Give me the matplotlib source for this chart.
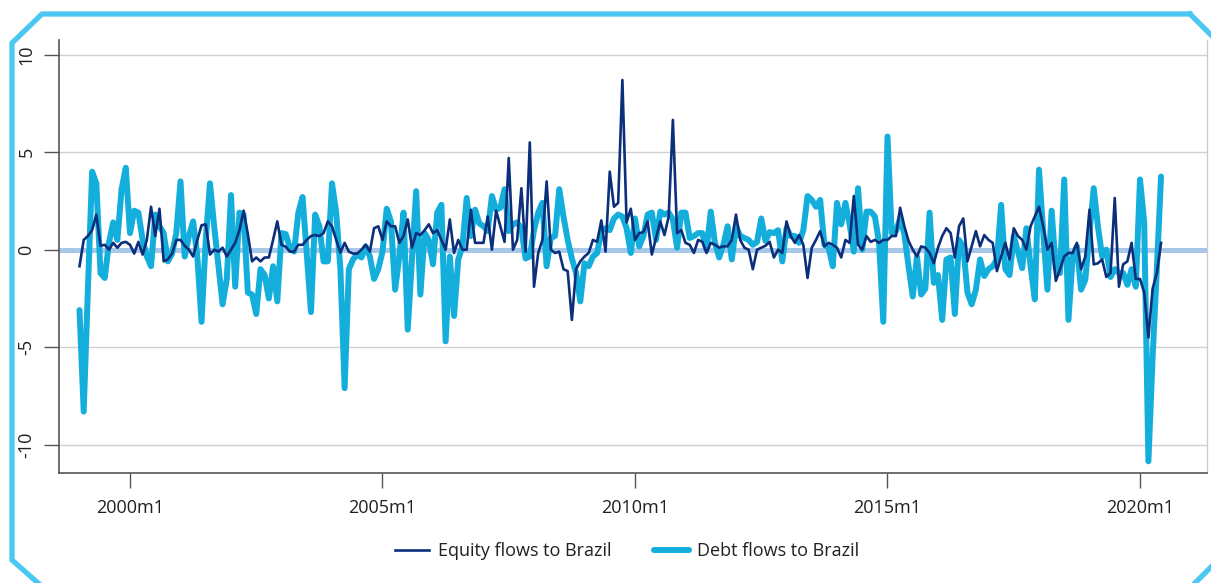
import numpy as np
import matplotlib
matplotlib.use("Agg")
import matplotlib.pyplot as plt
from matplotlib.lines import Line2D

# ---------------- data (percent, monthly 1999m1 - 2020m6) ----------------
start_year = 1999
equity_flows = [
    -0.85, 0.5, 0.7, 1.0, 1.8, 0.2, 0.25, 0.0, 0.35, 0.1, 0.35, 0.4,        # 1999
    0.25, -0.2, 0.4, -0.25, 0.5, 2.2, 0.7, 2.1, -0.6, -0.5, -0.2, 0.5,      # 2000
    0.5, 0.2, 0.0, -0.35, 0.5, 1.25, 1.3, -0.25, 0.0, -0.1, 0.1, -0.35,     # 2001
    0.0, 0.35, 1.0, 2.0, 0.8, -0.6, -0.4, -0.6, -0.4, -0.4, 0.5, 1.45,      # 2002
    0.25, 0.15, -0.1, -0.1, 0.25, 0.25, 0.5, 0.7, 0.75, 0.7, 0.85, 1.45,    # 2003
    1.2, 0.5, -0.15, 0.35, -0.1, -0.2, -0.2, 0.0, 0.25, -0.1, 1.1, 1.2,     # 2004
    0.5, 1.45, 1.2, 1.2, 0.35, 0.7, 1.55, 0.1, 0.85, 0.75, 1.0, 1.3,        # 2005
    0.85, 1.0, 0.5, 0.0, 1.55, -0.17, 0.5, 0.0, 0.0, 2.05, 0.35, 0.35,      # 2006
    0.35, 1.7, 0.0, 2.0, 1.2, 0.4, 4.7, 0.0, 0.5, 3.15, -0.1, 5.5,          # 2007
    -1.9, -0.17, 0.5, 3.5, 0.0, -0.17, -0.1, -1.0, -1.1, -3.6, -1.0, -0.6,  # 2008
    -0.35, -0.17, 0.5, 0.4, 1.5, -0.1, 4.0, 2.2, 2.4, 8.7, 1.4, 2.1,        # 2009
    0.5, 0.85, 0.9, 1.45, -0.25, 0.6, 1.45, 0.75, 1.7, 6.65, 0.85, 1.0,     # 2010
    0.35, 0.25, -0.17, 0.5, 0.4, -0.17, 0.35, 0.25, 0.1, 0.17, 0.17, 0.5,   # 2011
    1.8, 0.5, 0.1, 0.0, -1.0, 0.0, 0.1, 0.2, 0.4, -0.4, 0.0, -0.17,         # 2012
    1.45, 0.7, 0.35, 0.75, 0.25, -1.45, 0.1, 0.5, 0.95, 0.17, 0.35, 0.25,   # 2013
    0.1, -0.4, 0.5, 0.35, 2.75, 0.25, 0.0, 0.7, 0.4, 0.5, 0.35, 0.5,        # 2014
    0.5, 0.7, 0.7, 2.15, 1.2, 0.45, 0.0, -0.35, 0.17, 0.1, -0.17, -0.7,     # 2015
    0.1, 0.7, 1.1, 0.85, -0.4, 1.2, 1.6, -0.6, 0.17, 0.95, 0.17, 0.75,      # 2016
    0.5, 0.35, -1.1, -0.35, 0.35, -0.5, 1.1, 0.7, 0.5, 0.0, 1.2, 1.7,       # 2017
    2.2, 1.2, 0.0, 0.35, -1.6, -1.0, -0.35, -0.17, -0.17, 0.35, -1.0, -0.35,  # 2018
    2.05, -0.75, -0.7, -0.5, -1.4, -1.2, 2.65, -1.9, -0.75, -0.6, 0.35, -1.5,  # 2019
    -1.5, -2.2, -4.5, -2.0, -1.2, 0.35,                                      # 2020
]
debt_flows = [
    -3.1, -8.3, -2.0, 4.0, 3.4, -1.2, -1.45, 0.35, 1.4, 0.5, 3.1, 4.2,      # 1999
    0.85, 2.0, 1.9, 0.5, -0.35, -0.85, 1.8, 1.2, 0.85, -0.6, -0.2, 0.85,    # 2000
    3.5, -0.35, 0.7, 1.45, -0.35, -3.7, 0.5, 3.4, 1.2, -0.8, -2.8, -1.5,    # 2001
    2.8, -1.9, 1.9, 1.8, -2.2, -2.3, -3.3, -1.0, -1.3, -2.5, -0.85, -2.65,  # 2002
    0.85, 0.8, 0.1, -0.1, 1.9, 2.7, -0.2, -3.2, 1.8, 1.2, -0.6, -0.6,       # 2003
    3.4, 1.9, -1.0, -7.1, -1.0, -0.5, -0.25, -0.4, 0.17, -0.35, -1.5, -1.0, # 2004
    -0.1, 2.1, 1.45, -2.05, -0.35, 1.9, -4.1, -0.5, 3.0, -2.3, 0.85, 0.5,   # 2005
    -0.75, 1.9, 2.3, -4.7, -0.35, -3.4, -0.5, 0.17, 2.65, 0.7, 2.05, 1.35,  # 2006
    1.2, 0.95, 2.75, 2.05, 2.15, 3.1, 0.95, 1.3, 1.4, 1.1, -0.45, -0.35,    # 2007
    1.0, 1.9, 2.4, -0.85, 0.6, 0.7, 3.1, 1.7, 0.5, -0.45, -1.2, -2.65,      # 2008
    -0.7, -0.85, -0.35, -0.17, 0.95, 1.1, 1.0, 1.6, 1.8, 1.7, 1.1, -0.17,   # 2009
    1.6, 0.17, 0.7, 1.8, 1.9, 0.5, 1.95, 1.8, 1.9, 1.55, 0.1, 1.9,          # 2010
    1.9, 0.6, 0.7, 0.85, 0.85, 0.0, 1.95, 0.35, -0.4, 0.25, 1.2, -0.5,      # 2011
    1.2, 0.7, 0.6, 0.5, 0.25, 0.4, 1.6, 0.45, 0.9, 0.85, 1.0, -0.6,         # 2012
    1.1, 0.7, 0.7, 0.35, 1.0, 2.75, 2.55, 2.2, 2.55, 0.25, 0.1, -0.85,      # 2013
    2.4, 1.3, 2.4, 1.3, -0.1, 3.15, 0.0, 1.95, 1.95, 1.7, 0.35, -3.7,       # 2014
    5.8, 0.85, 0.95, 1.6, 0.8, -0.85, -2.4, -0.35, -2.3, -2.0, 1.9, -1.7,   # 2015
    -1.3, -3.6, -0.5, -0.4, -3.3, 0.5, 0.17, -2.2, -2.8, -2.05, -0.5, -1.35,  # 2016
    -1.0, -0.85, -0.5, 2.3, -1.0, -1.3, 0.7, -0.1, -0.95, 1.1, -0.85, -2.55,  # 2017
    4.1, 0.9, -2.05, 2.0, -1.0, -1.2, 3.6, -3.6, -0.35, 0.17, -2.05, -1.55,   # 2018
    0.85, 3.15, 1.2, -0.35, 0.0, -1.4, -1.0, -1.2, -1.2, -1.8, -1.0, -1.9,    # 2019
    3.6, 1.4, -10.85, -5.5, -1.0, 3.75,                                        # 2020
]
tick_years = [2000, 2005, 2010, 2015, 2020]
tick_labels = ["2000m1", "2005m1", "2010m1", "2015m1", "2020m1"]
y_ticks = [-10, -5, 0, 5, 10]
series_names = ["Equity flows to Brazil", "Debt flows to Brazil"]

# ---------------- styling ----------------
FONT = ["Open Sans", "DejaVu Sans"]
plt.rcParams["font.family"] = FONT
EQ_COLOR = "#0b2f7b"
DEBT_COLOR = "#14aedc"
ZERO_COLOR = "#a9c8e8"
FRAME_COLOR = "#4ac8f2"
TEXT_COLOR = "#231f20"

W, H = 1211, 583
fig = plt.figure(figsize=(W / 100, H / 100), dpi=100)
fig.patch.set_facecolor("white")

ax = fig.add_axes([59 / W, 1 - 473 / H, (1207 - 59) / W, (473 - 40) / H])

t = start_year + np.arange(len(debt_flows)) / 12.0
t_eq = start_year + np.arange(len(equity_flows)) / 12.0

ax.axhline(0, color=ZERO_COLOR, lw=3.6, zorder=1)
for yv in y_ticks:
    if yv != 0:
        ax.axhline(yv, color="#d0d0d0", lw=1.0, zorder=0)

ax.plot(t_eq, equity_flows, color=EQ_COLOR, lw=1.9, zorder=3,
        solid_joinstyle="round", label=series_names[0])
ax.plot(t, debt_flows, color=DEBT_COLOR, lw=4.3, zorder=2,
        solid_joinstyle="round", solid_capstyle="round", label=series_names[1])

ax.set_xlim(2000 - 71 / 50.5, 2000 + 1148 / 50.5 - 71 / 50.5)
ax.set_ylim(-11.45, 10.75)

ax.set_xticks(tick_years)
ax.set_xticklabels(tick_labels)
ax.set_yticks(y_ticks)
ax.set_yticklabels([str(v) for v in y_ticks], rotation=90, va="center")

ax.tick_params(axis="both", direction="out", length=11, width=1.0,
               color="#555555", labelsize=13, labelcolor=TEXT_COLOR)
ax.tick_params(axis="x", pad=8)
ax.tick_params(axis="y", pad=6)

for side in ["left", "bottom"]:
    ax.spines[side].set_color("#555555")
    ax.spines[side].set_linewidth(1.2)
ax.spines["top"].set_visible(False)
ax.spines["right"].set_color("#cccccc")
ax.spines["right"].set_linewidth(1.0)
ax.set_facecolor("white")

handles = [Line2D([], [], color=EQ_COLOR, lw=1.9),
           Line2D([], [], color=DEBT_COLOR, lw=4.3, solid_capstyle="round")]
leg = fig.legend(handles, series_names, loc="center", ncol=2,
                 bbox_to_anchor=(627 / W, 1 - 551 / H), frameon=False,
                 fontsize=13, handlelength=1.9, handletextpad=0.45,
                 columnspacing=2.4, labelcolor=TEXT_COLOR)

# decorative frame (octagon-like panel border), in pixel coordinates
fx = [1190, 42, 12, 12, 38]
fy = [14, 14, 43, 560, 583]
fig.add_artist(Line2D([x / W for x in fx], [1 - y / H for y in fy],
                      color=FRAME_COLOR, lw=3.8, transform=fig.transFigure,
                      solid_joinstyle="miter"))
fig.add_artist(Line2D([1190 / W, 1211 / W], [1 - 14 / H, 1 - 35 / H],
                      color=FRAME_COLOR, lw=3.8, transform=fig.transFigure))
fig.add_artist(Line2D([1195 / W, 1211 / W], [1 - 583 / H, 1 - 567 / H],
                      color=FRAME_COLOR, lw=3.8, transform=fig.transFigure))

fig.savefig("out.png", dpi=100, facecolor="white")
